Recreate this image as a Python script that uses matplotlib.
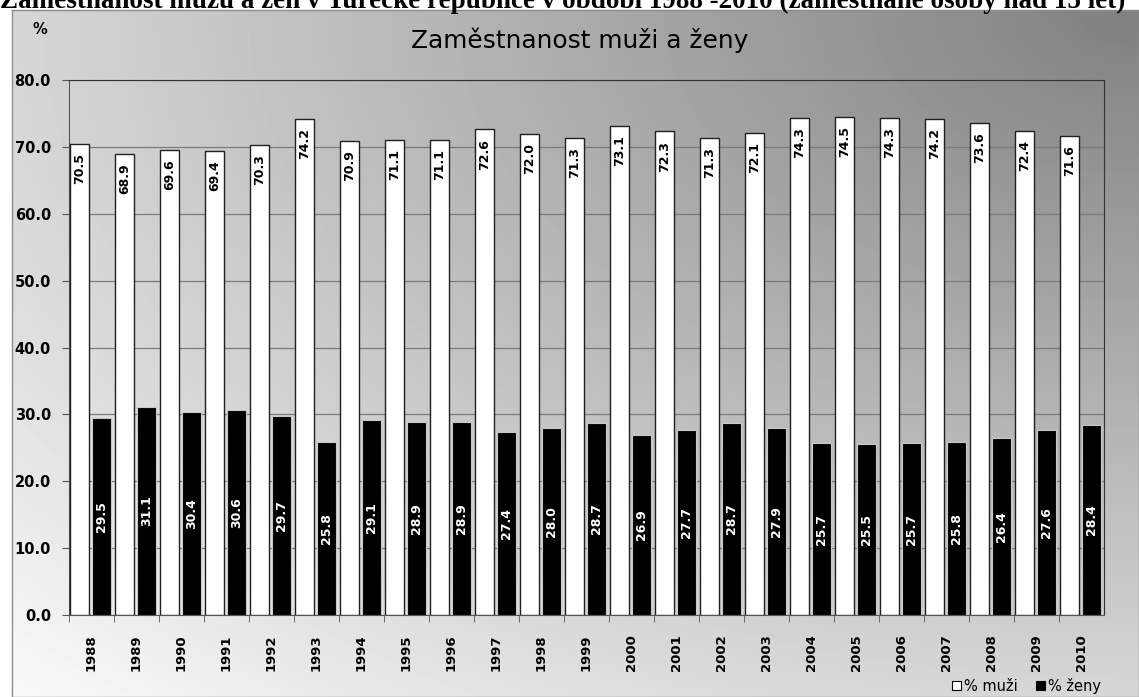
import matplotlib
matplotlib.use("Agg")

import numpy as np
import matplotlib.pyplot as plt
from matplotlib.patches import Rectangle


# ======================================
# DATA
# ======================================

years=[str(y) for y in range(1988,2011)]

muzi=[70.5,68.9,69.6,69.4,70.3,74.2,70.9,71.1,71.1,72.6,72.0,71.3,
      73.1,72.3,71.3,72.1,74.3,74.5,74.3,74.2,73.6,72.4,71.6]

zeny=[29.5,31.1,30.4,30.6,29.7,25.8,29.1,28.9,28.9,27.4,28.0,28.7,
      26.9,27.7,28.7,27.9,25.7,25.5,25.7,25.8,26.4,27.6,28.4]

yticks=[0,10,20,30,40,50,60,70,80]

header="Zaměstnanost mužů a žen v Turecké republice v období 1988 -2010 (zaměstnané osoby nad 15 let)"
title="Zaměstnanost muži a ženy"


# ======================================
# FIGURE
# ======================================

W,H=1139,697
fig=plt.figure(figsize=(W/100,H/100),dpi=100)
fig.patch.set_facecolor("white")

# gradient chart box
bg=fig.add_axes([12/W,0,1-12/W,(H-10)/H])
gx,gy=np.meshgrid(np.linspace(0,1,300),np.linspace(0,1,200))
# distance from top-right corner (top row is gy=0)
d=np.sqrt((1-gx)**2+gy**2)/np.sqrt(2)
shade=128+(250-128)*d
bg.imshow(shade,cmap="gray",vmin=0,vmax=255,aspect="auto",
          extent=[0,1,0,1],interpolation="bilinear")
bg.set_xticks([])
bg.set_yticks([])
for s in bg.spines.values():
    s.set_color("#8c8c8c")
    s.set_linewidth(1)

# header (top part cut off, as in the source)
fig.text(0.0,1-8.5/H,header,family="Liberation Serif",fontweight="bold",
         fontsize=19.5,ha="left",va="baseline")

# ======================================
# BAR CHART
# ======================================

ax=fig.add_axes([69/W,1-615/H,(1104-69)/W,(615-80)/H])
ax.patch.set_alpha(0)

x=np.arange(len(years))

ax.bar(x+0.02,muzi,width=0.43,align="edge",color="white",
       edgecolor="#202020",linewidth=1,zorder=3)
ax.bar(x+0.515,zeny,width=0.415,align="edge",color="black",
       edgecolor="#c8c8c8",linewidth=0.8,zorder=3)

for i,v in enumerate(muzi):
    ax.text(i+0.235,v-1.4,f"{v:.1f}",rotation=90,ha="center",va="top",
            fontsize=9,fontweight="bold",color="black",zorder=4)

for i,v in enumerate(zeny):
    ax.text(i+0.72,v/2,f"{v:.1f}",rotation=90,ha="center",va="center",
            fontsize=9,fontweight="bold",color="white",zorder=4)

ax.set_xlim(0,len(years))
ax.set_ylim(0,80)

ax.set_yticks(yticks)
ax.set_yticklabels([f"{t:.1f}" for t in yticks],fontsize=10.5,
                   fontweight="bold")

ax.set_xticks(x,minor=True)
ax.set_xticks(x+0.5)
ax.set_xticklabels(years,rotation=90,fontsize=9.5,fontweight="bold")
ax.tick_params(axis="x",which="major",length=0,pad=14)
ax.tick_params(axis="x",which="minor",length=5,color="#555555")
ax.tick_params(axis="y",length=5,color="#555555",pad=8)

ax.yaxis.grid(True,color="#7a7a7a",linewidth=0.9,zorder=0)
ax.set_axisbelow(True)

for s in ["left","bottom"]:
    ax.spines[s].set_color("#555555")
for s in ["top","right"]:
    ax.spines[s].set_color("#333333")

fig.text(40/W,1-30/H,"%",fontsize=10.5,fontweight="bold",
         ha="center",va="center")

fig.text(580/W,1-40/H,title,fontsize=17.9,ha="center",va="center")

# legend
h1=Rectangle((0,0),1,1,facecolor="white",edgecolor="black",linewidth=0.8)
h2=Rectangle((0,0),1,1,facecolor="black",edgecolor="black",linewidth=0.8)
fig.legend([h1,h2],["% muži","% ženy"],loc="center right",
           bbox_to_anchor=(1114/W,1-686/H),ncol=2,frameon=False,
           fontsize=10.5,handlelength=0.6,handleheight=0.6,
           handletextpad=0.2,columnspacing=1.3)

plt.savefig("out.png",dpi=100)
plt.close()
